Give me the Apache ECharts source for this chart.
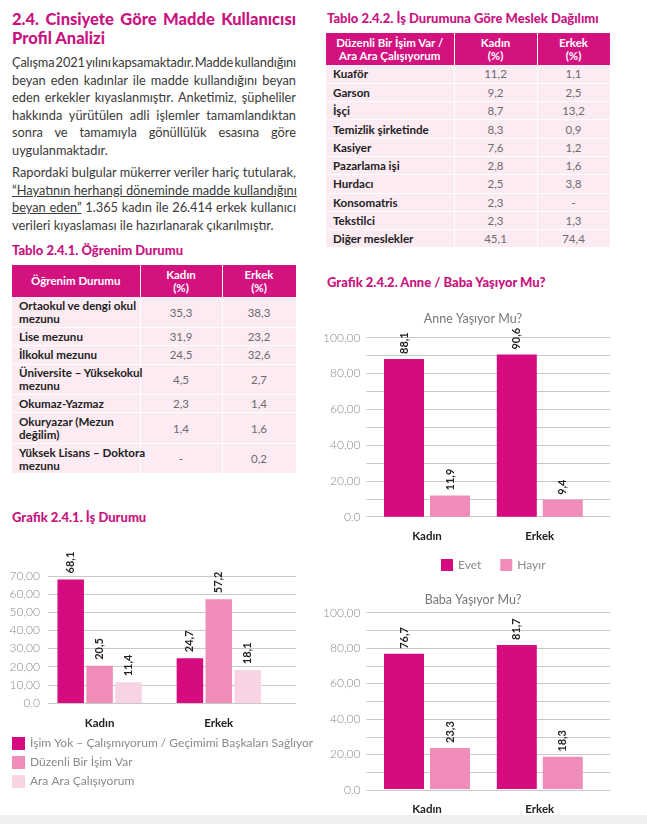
<!DOCTYPE html>
<html><head><meta charset="utf-8">
<script src="https://cdn.jsdelivr.net/npm/echarts@6/dist/echarts.min.js"></script>
<style>
body{margin:0;width:647px;height:824px;position:relative;background:#fff;font-family:Lato,'Open Sans',sans-serif;overflow:hidden}
.abs{position:absolute}
.h1{left:12px;top:10px;width:284px;color:#c8147f;font-weight:900;font-size:16.5px;line-height:18.5px}
.p{left:12px;width:284px;color:#3a3a3a;font-size:12.8px;line-height:17.5px}
.j{text-align:justify;text-align-last:justify;white-space:nowrap}
.u{text-decoration:underline}
.tt{color:#c8147f;font-weight:900;font-size:13px;line-height:16px;white-space:nowrap}
table{position:absolute;border-collapse:collapse;table-layout:fixed;font-size:11.5px}
th{background:#d3127f;color:#fff;font-weight:700;text-align:center;line-height:13.5px;border-right:1px solid #fff;padding:0}
td{background:#fcebf3;border-bottom:1px solid #fff;border-right:1px solid #fff;padding:0;line-height:13px}
td.l{font-weight:700;color:#222;padding-left:7px;text-align:left;font-size:11.6px;white-space:nowrap;overflow:visible}
td.v{color:#6b6b6b;text-align:center}
.band{left:0;top:815px;width:647px;height:9px;background:#efefef}
</style></head>
<body>
<div class="abs h1"><div class="j">2.4. Cinsiyete Göre Madde Kullanıcısı</div><div>Profil Analizi</div></div>
<div class="abs p" style="top:54px">
<div class="j" style="word-spacing:-3.5px;letter-spacing:-0.15px">Çalışma 2021 yılını kapsamaktadır. Madde kullandığını</div>
<div class="j">beyan eden kadınlar ile madde kullandığını beyan</div>
<div class="j">eden erkekler kıyaslanmıştır. Anketimiz, şüpheliler</div>
<div class="j">hakkında yürütülen adli işlemler tamamlandıktan</div>
<div class="j">sonra ve tamamıyla gönüllülük esasına göre</div>
<div>uygulanmaktadır.</div>
</div>
<div class="abs p" style="top:164px">
<div class="j">Rapordaki bulgular mükerrer veriler hariç tutularak,</div>
<div class="j"><span class="u">“Hayatının herhangi döneminde madde kullandığını</span></div>
<div class="j"><span class="u">beyan eden”</span> 1.365 kadın ile 26.414 erkek kullanıcı</div>
<div>verileri kıyaslaması ile hazırlanarak çıkarılmıştır.</div>
</div>
<div class="abs tt" style="left:12px;top:242px">Tablo 2.4.1. Öğrenim Durumu</div>
<div class="abs tt" style="left:327px;top:10px">Tablo 2.4.2. İş Durumuna Göre Meslek Dağılımı</div>
<div class="abs tt" style="left:12px;top:509px">Grafik 2.4.1. İş Durumu</div>
<div class="abs tt" style="left:327px;top:274px">Grafik 2.4.2. Anne / Baba Yaşıyor Mu?</div>
<table id="t1" style="left:12px;top:265px;width:284px"></table>
<table id="t2" style="left:326px;top:33px;width:284px"></table>
<div class="abs band"></div>
<div id="c1" class="abs" style="left:0;top:530px;width:320px;height:285px"></div>
<div id="c2" class="abs" style="left:320px;top:290px;width:327px;height:290px"></div>
<div id="c3" class="abs" style="left:320px;top:580px;width:327px;height:235px"></div>
<script>
// ---- data ----
const genders = ['Kadın', 'Erkek'];
const ogrenimLabels = ['Ortaokul ve dengi okul\nmezunu', 'Lise mezunu', 'İlkokul mezunu', 'Üniversite – Yüksekokul\nmezunu', 'Okumaz-Yazmaz', 'Okuryazar (Mezun\ndeğilim)', 'Yüksek Lisans – Doktora\nmezunu'];
const ogrenimKadin = [35.3, 31.9, 24.5, 4.5, 2.3, 1.4, null];
const ogrenimErkek = [38.3, 23.2, 32.6, 2.7, 1.4, 1.6, 0.2];
const meslekLabels = ['Kuaför', 'Garson', 'İşçi', 'Temizlik şirketinde', 'Kasiyer', 'Pazarlama işi', 'Hurdacı', 'Konsomatris', 'Tekstilci', 'Diğer meslekler'];
const meslekKadin = [11.2, 9.2, 8.7, 8.3, 7.6, 2.8, 2.5, 2.3, 2.3, 45.1];
const meslekErkek = [1.1, 2.5, 13.2, 0.9, 1.2, 1.6, 3.8, null, 1.3, 74.4];
const isDurumuNames = ['İşim Yok – Çalışmıyorum / Geçimimi Başkaları Sağlıyor', 'Düzenli Bir İşim Var', 'Ara Ara Çalışıyorum'];
const isYok = [68.1, 24.7];
const duzenli = [20.5, 57.2];
const araAra = [11.4, 18.1];
const yasiyorNames = ['Evet', 'Hayır'];
const anneEvet = [88.1, 90.6];
const anneHayir = [11.9, 9.4];
const babaEvet = [76.7, 81.7];
const babaHayir = [23.3, 18.3];

const fmt1 = v => v == null ? '-' : v.toFixed(1).replace('.', ',');

function buildTable(id, head, labels, k, e, widths) {
  let h = '<colgroup>' + widths.map(w => '<col style="width:' + w + 'px">').join('') + '</colgroup>';
  h += '<tr style="height:32px">' + head.map(x => '<th>' + x + '</th>').join('') + '</tr>';
  labels.forEach((l, i) => {
    const two = l.indexOf('\n') >= 0;
    h += '<tr style="height:' + (two ? 30.5 : 18.3) + 'px"><td class="l">' + l.replace('\n', '<br>') + '</td><td class="v">' + fmt1(k[i]) + '</td><td class="v">' + fmt1(e[i]) + '</td></tr>';
  });
  document.getElementById(id).innerHTML = h;
}
buildTable('t1', ['Öğrenim Durumu', 'Kadın<br>(%)', 'Erkek<br>(%)'], ogrenimLabels, ogrenimKadin, ogrenimErkek, [128, 82, 74]);
buildTable('t2', ['Düzenli Bir İşim Var /<br>Ara Ara Çalışıyorum', 'Kadın<br>(%)', 'Erkek<br>(%)'], meslekLabels, meslekKadin, meslekErkek, [128, 83, 73]);

const C_DARK = '#d60b80', C_MID = '#ef8cba', C_LIGHT = '#f9d2e3';
const FONT = 'Lato, "Open Sans", sans-serif';

function barChart(el, cfg) {
  const chart = echarts.init(document.getElementById(el), null, { renderer: 'canvas' });
  const yLab = v => v === 0 ? '0,0' : v.toFixed(2).replace('.', ',');
  const yBase = { type: 'value', min: 0, max: cfg.max, interval: cfg.interval };
  const series = cfg.series.map(s => ({
    name: s.name, type: 'bar', xAxisIndex: 1, yAxisIndex: 1, data: s.data,
    barWidth: cfg.barWidth, barGap: cfg.barGap,
    itemStyle: { color: s.color },
    label: {
      show: true, position: 'top', rotate: 90, align: 'left', verticalAlign: 'middle',
      distance: cfg.labelDist, fontFamily: FONT, fontSize: 11, fontWeight: 'bold', color: '#222',
      formatter: p => fmt1(p.value)
    }
  }));
  const opt = {
    animation: false,
    textStyle: { fontFamily: FONT },
    grid: [
      { left: cfg.gridA[0], width: cfg.gridA[1], top: cfg.top, height: cfg.height },
      { left: cfg.gridB[0], width: cfg.gridB[1], top: cfg.top, height: cfg.height }
    ],
    xAxis: [
      { type: 'category', gridIndex: 0, data: genders, show: false },
      { type: 'category', gridIndex: 1, data: genders, axisLine: { show: false }, axisTick: { show: false },
        axisLabel: { margin: 14, fontFamily: FONT, fontSize: 11.5, fontWeight: 'bold', color: '#222' } }
    ],
    yAxis: [
      Object.assign({ gridIndex: 0, axisLine: { show: false }, axisTick: { show: false },
        axisLabel: { formatter: yLab, margin: cfg.yMargin, fontFamily: FONT, fontSize: 12, fontWeight: 300, color: '#8a8a8a' },
        splitLine: { lineStyle: { color: '#c9c9c9', width: 1 } },
        minorTick: { show: false, splitNumber: 2 },
        minorSplitLine: { show: !!cfg.minor, lineStyle: { color: '#c9c9c9', width: 1 } } }, yBase),
      Object.assign({ gridIndex: 1, show: false, splitLine: { show: false } }, yBase)
    ],
    legend: Object.assign({ icon: 'rect', textStyle: { fontFamily: FONT, fontSize: 12, color: '#8a8a8a' } }, cfg.legend),
    series: series
  };
  if (cfg.title) {
    opt.title = { text: cfg.title, left: cfg.titleX, top: cfg.titleTop, textAlign: 'center',
      textStyle: { fontFamily: FONT, fontSize: 12.5, fontWeight: 'normal', color: '#777' } };
  }
  chart.setOption(opt);
}

barChart('c1', {
  max: 70, interval: 10, top: 46, height: 127,
  gridA: [48, 248], gridB: [40, 238.4], barWidth: 26.5, barGap: '9%', labelDist: 6, yMargin: 8,
  series: [
    { name: isDurumuNames[0], data: isYok, color: C_DARK },
    { name: isDurumuNames[1], data: duzenli, color: C_MID },
    { name: isDurumuNames[2], data: araAra, color: C_LIGHT }
  ],
  legend: { orient: 'vertical', left: 7, top: 202, itemWidth: 13, itemHeight: 13, itemGap: 6 }
});
barChart('c2', {
  max: 100, interval: 20, minor: true, top: 47.7, height: 179,
  gridA: [43.3, 246.7], gridB: [50.6, 225.6], barWidth: 40, barGap: '15%', labelDist: 5, yMargin: 6,
  title: 'Anne Yaşıyor Mu?', titleX: 148, titleTop: 17,
  series: [
    { name: yasiyorNames[0], data: anneEvet, color: C_DARK },
    { name: yasiyorNames[1], data: anneHayir, color: C_MID }
  ],
  legend: { orient: 'horizontal', left: 116, top: 264, itemWidth: 12, itemHeight: 12, itemGap: 19 }
});
barChart('c3', {
  max: 100, interval: 20, minor: true, top: 32.7, height: 177.3,
  gridA: [43.3, 246.7], gridB: [50.6, 225.6], barWidth: 40, barGap: '15%', labelDist: 5, yMargin: 6,
  title: 'Baba Yaşıyor Mu?', titleX: 148, titleTop: 8,
  series: [
    { name: yasiyorNames[0], data: babaEvet, color: C_DARK },
    { name: yasiyorNames[1], data: babaHayir, color: C_MID }
  ],
  legend: { show: false }
});
</script>
</body></html>
